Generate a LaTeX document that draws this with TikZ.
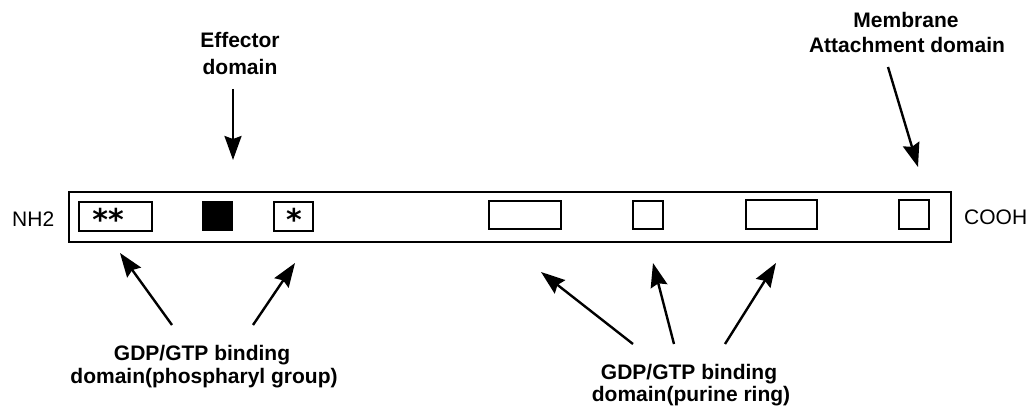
\documentclass[tikz,border=0pt]{standalone}
\usepackage{fontspec}
\setmainfont{Liberation Sans}
\newfontfamily\astfont{DejaVu Sans}
\usetikzlibrary{arrows.meta}
\begin{document}
\begin{tikzpicture}[x=1pt,y=-1pt,
  lbl/.style={font=\fontsize{21}{24}\selectfont\bfseries, inner sep=0pt, anchor=base},
  termlbl/.style={font=\fontsize{21}{24}\selectfont, inner sep=0pt, anchor=base west},
  dom/.style={draw, line width=1.6pt, inner sep=0pt},
  bar/.style={draw, line width=1.8pt, inner sep=0pt},
  ptr/.style={line width=2.4pt, -{Stealth[length=24pt,width=17pt,inset=3pt]}},
  starlbl/.style={font=\astfont\bfseries\fontsize{30}{30}\selectfont, inner sep=0pt, anchor=base}
]
\useasboundingbox (0,0) rectangle (1034,409);
\fill[white] (0,0) rectangle (1034,409);

% protein bar
\node[bar, minimum width=882pt, minimum height=50pt] (bar) at (510,217) {};

% domains
\node[dom, minimum width=73pt, minimum height=29pt] (d1) at (115.5,216.5) {};
\node[dom, fill=black, minimum width=29pt, minimum height=28pt] (eff) at (217.5,216) {};
\node[dom, minimum width=39pt, minimum height=29pt] (d2) at (293.5,216.5) {};
\node[dom, minimum width=72pt, minimum height=28pt] (d3) at (525,215) {};
\node[dom, minimum width=30pt, minimum height=28pt] (d4) at (648,215) {};
\node[dom, minimum width=71pt, minimum height=29pt] (d5) at (781.5,214.5) {};
\node[dom, minimum width=30pt, minimum height=29pt] (d6) at (914,214.5) {};

% asterisks
\node[starlbl] (s1) at (108,230) {**};
\node[starlbl] (s2) at (294,230) {*};

% terminal labels
\node[termlbl] (nh) at (12,226) {NH2};
\node[termlbl] (cooh) at (964,225) {COOH};

% labels
\node[lbl] (eff1) at (240,48) {Effector};
\node[lbl] (eff2) at (240,75) {domain};
\node[lbl] (mem1) at (906,28) {Membrane};
\node[lbl] (mem2) at (907,53) {Attachment domain};
\node[lbl] (pg1) at (202,360) {GDP/GTP binding};
\node[lbl] (pg2) at (204,383) {domain(phospharyl group)};
\node[lbl] (pr1) at (689,379) {GDP/GTP binding};
\node[lbl] (pr2) at (691,401) {domain(purine ring)};

% arrow end points
\coordinate (effS) at (233,89);   \coordinate (effT) at (233,160);
\coordinate (memS) at (888,67);   \coordinate (memT) at (918,167);
\coordinate (pgAS) at (172,325);  \coordinate (pgAT) at (120,253);
\coordinate (pgBS) at (253,325);  \coordinate (pgBT) at (295,263);
\coordinate (prAS) at (633,344);  \coordinate (prAT) at (541,272);
\coordinate (prBS) at (674,344);  \coordinate (prBT) at (653,263);
\coordinate (prCS) at (725,344);  \coordinate (prCT) at (776,263);

\draw[ptr] (effS) -- (effT);
\draw[ptr] (memS) -- (memT);
\draw[ptr] (pgAS) -- (pgAT);
\draw[ptr] (pgBS) -- (pgBT);
\draw[ptr] (prAS) -- (prAT);
\draw[ptr] (prBS) -- (prBT);
\draw[ptr] (prCS) -- (prCT);
\end{tikzpicture}
\end{document}
